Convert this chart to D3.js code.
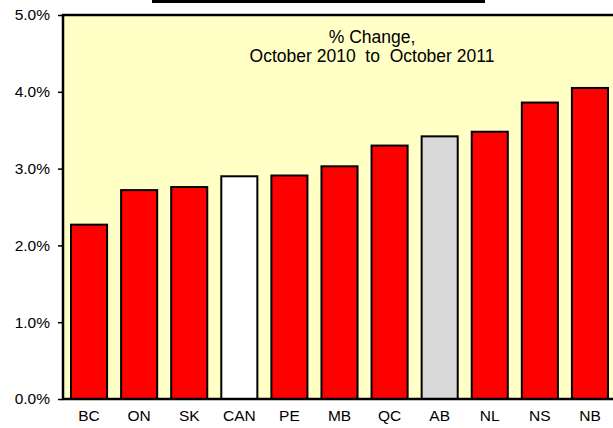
<!DOCTYPE html>
<html>
<head>
<meta charset="utf-8">
<script src="https://cdn.jsdelivr.net/npm/d3@7"></script>
<style>
  html, body { margin: 0; padding: 0; background: #ffffff; }
  svg { display: block; }
  text { font-family: "Liberation Sans", Arial, sans-serif; fill: #000; }
</style>
</head>
<body>
<svg id="chart" width="613" height="428"></svg>
<script>
// Provinces, ordered from lowest to highest change
const categories = ["BC", "ON", "SK", "CAN", "PE", "MB", "QC", "AB", "NL", "NS", "NB"];
// Percent change, October 2010 to October 2011
const values = [2.27, 2.72, 2.76, 2.9, 2.91, 3.03, 3.3, 3.42, 3.48, 3.86, 4.05];
// Fill per bar: national total in white, Alberta highlighted in grey
const fills = ["#ff0000", "#ff0000", "#ff0000", "#ffffff", "#ff0000", "#ff0000",
               "#ff0000", "#d9d9d9", "#ff0000", "#ff0000", "#ff0000"];
const yTicks = [0, 1, 2, 3, 4, 5];
const titleLines = ["% Change,", "October 2010  to  October 2011"];

const svg = d3.select("#chart");
const plot = { left: 63, top: 15, right: 615, bottom: 399 };

const x = d3.scaleBand()
  .domain(categories)
  .range([plot.left + 1, plot.right])
  .paddingInner(0.28)
  .paddingOuter(0.14);

const y = d3.scaleLinear()
  .domain([0, 5])
  .range([plot.bottom, plot.top]);

// Header strip above the plot
svg.append("rect")
  .attr("x", 152).attr("y", 0)
  .attr("width", 333).attr("height", 3)
  .attr("fill", "#000");

// Plot background
svg.append("rect")
  .attr("x", plot.left).attr("y", plot.top)
  .attr("width", plot.right - plot.left)
  .attr("height", plot.bottom - plot.top)
  .attr("fill", "#ffffc6");

// Bars
svg.append("g").selectAll("rect")
  .data(categories)
  .join("rect")
  .attr("x", d => x(d))
  .attr("y", (d, i) => y(values[i]))
  .attr("width", x.bandwidth())
  .attr("height", (d, i) => y(0) - y(values[i]))
  .attr("fill", (d, i) => fills[i])
  .attr("stroke", "#000")
  .attr("stroke-width", 2);

// Plot frame
svg.append("rect")
  .attr("x", plot.left).attr("y", plot.top)
  .attr("width", plot.right - plot.left)
  .attr("height", plot.bottom - plot.top)
  .attr("fill", "none")
  .attr("stroke", "#000")
  .attr("stroke-width", 2.5);

// Y axis
const yAxis = svg.append("g")
  .attr("transform", `translate(${plot.left},0)`)
  .call(d3.axisLeft(y).tickValues(yTicks).tickSize(5).tickPadding(8)
    .tickFormat(d => d3.format(".1f")(d) + "%"));
yAxis.select(".domain").remove();
yAxis.selectAll("line").attr("stroke", "#000").attr("stroke-width", 1.5);
yAxis.selectAll("text").style("font-size", "15.5px")
  .style("font-family", "'Liberation Sans', Arial, sans-serif");

// X axis
const xAxis = svg.append("g")
  .attr("transform", `translate(0,${plot.bottom})`)
  .call(d3.axisBottom(x).tickSize(0).tickPadding(11));
xAxis.select(".domain").remove();
xAxis.selectAll("text").style("font-size", "15.5px")
  .style("font-family", "'Liberation Sans', Arial, sans-serif");

// Title inside plot
svg.append("g").selectAll("text")
  .data(titleLines)
  .join("text")
  .attr("x", 372)
  .attr("y", (d, i) => 43 + i * 19)
  .attr("text-anchor", "middle")
  .style("font-size", "17.5px")
  .style("white-space", "pre")
  .text(d => d);
</script>
</body>
</html>
